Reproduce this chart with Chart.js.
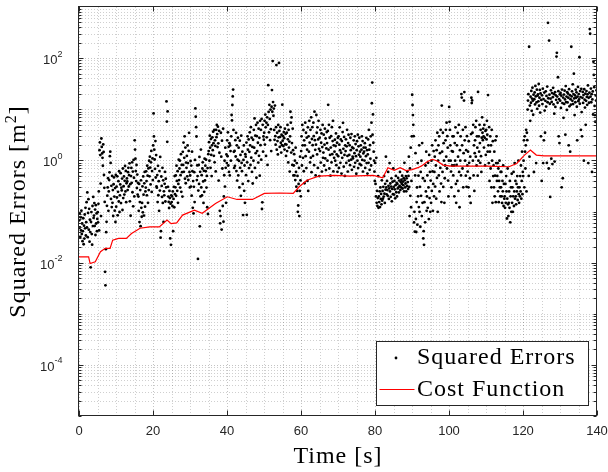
<!DOCTYPE html>
<html><head><meta charset="utf-8">
<script src="https://cdn.jsdelivr.net/npm/chart.js@4.4.0/dist/chart.umd.min.js"></script>
<style>html,body{margin:0;padding:0;background:#fff;overflow:hidden}</style>
</head><body>
<canvas id="c" width="608" height="472" style="width:608px;height:472px;display:block"></canvas>
<script>
// ---------------- data ----------------
const xTickLabels = [0, 20, 40, 60, 80, 100, 120, 140];
const yTickExponents = [-4, -2, 0, 2];
const seriesNames = ['Squared Errors', 'Cost Function'];

// Cost function (red line): time [s] and value [m^2]
const costTime  = [0, 2.6, 3.0, 4.4, 5.8, 7.1, 8.4, 9.1, 10.7, 12.8, 14.2, 16.5, 19.1, 21.7, 23.8, 24.9, 26.4, 28.0, 31.2, 33.3, 36.9, 40.1, 42.7, 46.9, 50.1, 54.2, 57.9, 59.5, 61.6, 64.8, 69.0, 73.2, 79.5, 82.1, 83.5, 85.2, 86.8, 88.4, 90.0, 91.6, 92.6, 94.2, 95.5, 96.8, 98.4, 100.5, 110, 116.2, 118.3, 120.4, 122, 123.6, 125.7, 140];
const costValue = [0.013, 0.013, 0.0096, 0.0104, 0.0163, 0.019, 0.019, 0.0275, 0.0297, 0.0297, 0.037, 0.047, 0.05, 0.05, 0.068, 0.058, 0.06, 0.085, 0.106, 0.092, 0.144, 0.194, 0.172, 0.172, 0.226, 0.23, 0.226, 0.305, 0.41, 0.49, 0.51, 0.49, 0.51, 0.457, 0.717, 0.64, 0.72, 0.63, 0.66, 0.72, 0.78, 0.95, 1.05, 0.97, 0.81, 0.77, 0.77, 0.75, 0.87, 1.27, 1.59, 1.27, 1.23, 1.23];

// Squared errors [m^2]: one row per second, 10 samples per second
const samplesPerSecond = 10;
const squaredErrors = [
[0.0672,0.0913,0.0486,0.0318,0.0771,0.0427,0.104,0.0362,0.0583,0.0263],
[0.0412,0.0738,0.0229,0.0527,0.0296,0.0874,0.0468,0.118,0.0339,0.0617],
[0.152,0.0487,0.236,0.0314,0.0936,0.174,0.0441,0.113,0.0257,0.0689],
[0.0395,0.0081,0.0623,0.0976,0.0361,0.0224,0.128,0.0519,0.193,0.0748],
[0.0834,0.146,0.0523,0.109,0.0347,0.133,0.0583,0.0917,0.0412,0.0716],
[0.097,0.0614,0.141,0.247,0.0426,1.58,2.24,1.27,0.352,0.0812],
[2.68,1.83,1.37,1.12,0.785,2.05,1.46,0.517,0.291,0.154],
[0.0066,0.0036,0.0183,0.0394,0.0627,0.129,0.204,0.296,0.447,0.103],
[0.247,0.412,0.584,1.21,1.48,0.893,0.176,0.318,0.122,0.497],
[0.148,0.262,0.0817,0.341,0.463,0.196,0.104,0.287,0.0623,0.518],
[0.124,0.306,0.188,0.487,0.0842,0.243,0.392,0.157,0.613,0.0978],
[0.207,0.338,0.562,0.146,0.293,0.258,0.441,0.107,0.694,0.183],
[0.312,0.486,0.214,0.398,0.776,0.247,0.621,0.152,0.357,0.443],
[0.386,0.263,0.588,0.716,0.308,0.513,0.874,0.158,0.342,0.0826],
[0.493,0.712,0.364,0.915,0.238,0.604,0.126,1.02,0.457,0.197],
[2.47,1.63,1.08,0.617,0.394,0.812,0.288,0.527,0.214,0.361],
[0.196,0.103,0.347,0.0621,0.153,0.262,0.0517,0.408,0.118,0.0789],
[0.147,0.309,0.0962,0.486,0.213,0.0834,0.356,0.594,0.124,0.247],
[0.294,0.612,0.393,0.207,0.786,0.503,0.148,0.697,0.263,0.984],
[0.487,1.18,0.723,0.338,0.917,1.53,0.241,0.618,1.09,0.412],
[1.96,8.3,2.94,1.62,1.04,0.683,2.38,0.462,1.27,0.308],
[0.293,0.516,0.153,0.784,0.208,0.392,0.103,0.617,0.257,1.17],
[0.0307,0.0412,0.484,0.316,0.193,0.714,0.147,0.407,0.0623,0.248],
[0.207,0.348,0.596,0.157,0.437,0.296,14.2,5.73,2.31,9.08],
[0.304,0.196,0.154,0.117,0.253,0.183,0.0298,0.142,0.0223,0.207],
[0.153,0.197,0.128,0.247,0.0412,0.176,0.304,0.121,0.493,0.218],
[0.297,0.508,0.203,0.786,0.396,0.254,0.614,0.148,0.347,1.03],
[0.412,0.693,0.987,0.294,0.513,1.32,0.243,0.816,0.587,0.196],
[1.47,0.814,2.23,0.596,1.12,2.96,0.438,1.78,0.357,0.907],
[0.716,1.22,0.487,1.96,0.884,0.413,1.53,3.46,0.592,0.296],
[0.506,0.973,0.307,0.792,0.204,1.48,0.613,0.118,0.394,0.0917],
[0.304,0.587,0.153,1.02,10.4,7.13,4.46,2.93,0.412,0.796],
[0.493,0.0118,0.257,0.812,0.346,1.17,0.0513,0.596,0.197,1.63],
[0.296,0.514,0.206,0.693,0.914,0.387,0.147,0.624,0.243,1.08],
[0.406,0.786,0.613,1.03,0.294,0.497,0.121,0.708,0.0893,1.32],
[1.52,2.27,0.984,3.04,1.77,0.714,2.62,1.28,0.493,1.97],
[2.83,1.58,3.64,2.17,1.23,3.93,0.914,2.47,1.92,0.607],
[3.96,2.84,4.93,3.27,1.82,4.56,2.16,0.403,3.78,1.41],
[0.103,0.0587,0.0814,3.47,1.18,0.0443,2.43,0.693,0.128,4.16],
[0.0632,0.197,0.512,0.984,0.307,1.77,0.716,0.148,1.31,0.886],
[2.47,1.21,3.53,0.793,1.84,0.594,2.17,0.507,1.96,1.52],
[0.987,2.96,7.71,6.04,12.1,17.8,24.3,3.94,1.47,0.712],
[1.53,0.784,2.48,1.19,3.46,0.617,1.97,0.403,1.03,2.77],
[0.507,1.77,0.974,0.296,2.43,0.716,1.28,0.203,3.04,0.893],
[0.614,1.48,0.347,0.0853,1.02,1.96,0.254,0.793,0.148,1.32],
[1.18,0.513,2.23,0.0862,0.917,2.96,1.62,0.394,2.57,0.706],
[1.47,3.53,1.97,0.812,4.46,1.13,2.78,0.596,1.83,0.353],
[2.53,0.983,3.96,1.77,6.62,0.713,3.04,1.38,4.93,0.457],
[2.97,1.52,5.46,2.21,0.907,4.17,1.23,2.76,0.503,5.94],
[1.98,3.96,1.03,6.47,0.112,0.151,4.96,1.48,2.94,2.53],
[3.47,5.93,2.04,7.86,4.43,1.22,5.46,2.83,6.94,0.814],
[4.93,29.6,8.87,3.53,12.2,6.47,2.48,9.86,4.07,1.52],
[11.2,23.7,8.93,87.6,13.8,7.46,10.3,3.94,2.52,11.8],
[2.97,2.03,4.46,73.2,1.62,3.47,2.38,1.31,4.93,2.83],
[80.7,3.76,1.83,2.88,4.47,2.21,1.42,3.17,1.98,12.3],
[2.43,2.97,1.91,3.58,2.72,1.63,4.16,2.07,3.31,1.22],
[2.04,3.47,1.52,4.93,2.58,0.913,3.96,1.78,2.33,0.604],
[2.96,8.93,5.47,1.42,6.93,2.18,0.814,4.17,1.58,0.507],
[0.793,1.32,0.507,0.986,0.412,1.77,0.594,0.306,0.887,0.253],
[0.497,0.0987,0.131,0.347,0.712,0.0812,0.253,1.18,0.407,0.198],
[1.52,2.96,0.793,4.94,1.97,1.12,3.93,0.613,2.47,0.357],
[1.97,5.46,1.21,3.47,0.706,2.78,1.62,0.397,4.43,0.253],
[2.96,1.48,5.93,2.23,0.913,3.96,1.13,6.94,0.587,2.62],
[4.46,1.98,1.22,5.47,2.97,0.806,8.96,2.48,1.61,0.507],
[2.03,7.72,3.47,1.31,4.43,0.713,2.57,5.93,1.68,0.494],
[2.78,1.52,3.96,0.907,2.21,3.37,0.604,1.82,4.93,1.12],
[1.42,3.18,0.793,2.03,4.17,1.09,2.68,0.647,1.71,3.57],
[2.18,0.987,3.77,12.2,1.62,4.96,0.693,2.77,1.28,0.503],
[1.78,2.97,0.913,4.46,1.32,2.38,5.93,0.607,1.97,1.12],
[1.48,2.53,0.984,1.91,3.37,0.807,1.31,2.21,0.596,2.77],
[1.21,2.96,0.713,2.03,4.43,1.58,0.896,2.57,1.41,0.553],
[2.38,1.12,3.57,5.43,1.68,0.752,2.87,1.28,0.497,1.97],
[1.52,2.58,0.893,1.88,3.96,1.22,0.604,2.18,3.17,0.987],
[1.28,1.97,0.807,2.77,1.58,1.03,3.27,0.653,1.79,1.18],
[1.09,1.72,2.47,0.748,1.38,2.96,0.896,2.08,1.21,0.547],
[1.58,2.37,0.987,3.18,0.706,1.88,1.29,2.77,0.853,1.48],
[1.18,1.97,0.807,1.62,2.96,1.02,2.38,0.604,1.37,1.78],
[1.48,0.993,2.17,0.712,1.77,1.21,2.76,0.887,1.58,0.553],
[1.31,2.57,0.896,3.96,1.62,0.653,1.98,1.08,2.96,0.793],
[5.47,13.1,33.2,3.18,7.93,2.21,1.48,0.987,0.604,0.397],
[0.893,0.347,0.197,1.12,0.148,0.253,0.128,0.183,0.493,0.118],
[0.197,0.153,0.248,0.122,0.296,0.176,0.221,0.138,0.407,0.163],
[0.253,0.178,0.304,0.196,0.493,0.223,0.147,0.348,0.267,1.18],
[0.296,0.217,0.397,0.262,0.203,0.594,0.318,0.176,0.283,0.887],
[0.247,0.353,0.194,0.307,0.446,0.158,0.277,0.382,0.218,0.693],
[0.303,0.214,0.397,0.272,0.181,0.327,0.497,0.238,0.363,0.197],
[0.347,0.283,0.453,0.297,0.236,0.402,0.318,0.594,0.262,0.377],
[0.296,0.418,0.347,0.503,0.282,0.384,0.327,0.447,0.247,0.896],
[0.407,0.296,0.353,0.494,0.248,0.446,0.317,0.604,0.377,0.276],
[0.497,1.18,0.303,0.0812,0.694,0.203,1.77,0.121,0.397,2.96],
[19.2,12.1,7.68,4.96,2.97,0.0612,0.0987,0.0403,0.507,1.38],
[0.0714,0.0397,0.153,0.296,0.0553,0.887,0.198,0.503,0.122,1.97],
[0.0987,0.304,0.0503,0.594,0.203,0.984,0.0812,2.18,0.148,0.447],
[0.0297,0.0412,0.0223,0.152,0.397,0.0614,0.793,0.247,1.48,0.103],
[0.197,0.507,0.118,0.896,0.296,0.0712,1.28,0.183,0.594,0.0987],
[0.403,0.148,0.987,0.253,1.97,0.607,0.103,0.347,1.52,0.198],
[0.594,1.18,0.307,2.47,0.793,0.178,1.58,0.453,3.47,0.0987],
[0.987,1.97,0.507,2.96,0.247,1.38,0.712,3.96,0.352,0.153],
[11.8,1.48,0.594,3.47,0.303,2.17,0.987,0.148,0.447,0.793],
[2.47,3.96,1.18,5.47,0.693,2.97,1.77,0.403,0.197,0.987],
[11.1,5.68,3.96,1.97,0.987,0.604,0.297,1.52,0.793,2.96],
[1.48,0.507,2.96,0.793,0.198,2.18,0.987,4.43,0.347,0.148],
[0.813,1.97,0.397,3.46,1.18,0.253,4.96,0.594,0.121,1.58],
[0.987,2.96,0.507,19.8,16.9,1.97,0.693,3.96,0.297,1.38],
[14.8,21.7,2.47,0.987,4.46,0.503,1.58,0.304,2.97,0.793],
[0.604,1.48,0.297,2.37,0.896,0.198,0.447,1.18,0.147,3.27],
[16.8,13.2,14.9,3.47,0.987,4.96,0.507,1.97,0.253,1.38],
[2.47,4.46,1.18,5.93,0.793,2.96,1.77,0.503,21.8,0.987],
[2.96,1.48,4.96,2.18,0.896,3.96,1.21,0.594,2.77,6.94],
[3.47,2.48,4.17,2.96,1.78,4.93,2.77,0.793,3.77,1.28],
[3.96,2.57,5.93,3.17,1.48,18.9,1.97,0.887,4.46,0.397],
[1.48,2.96,0.693,1.97,0.297,3.96,0.987,0.148,2.37,0.494],
[0.793,0.297,1.48,0.198,0.503,2.47,0.152,0.887,2.96,0.397],
[0.497,0.887,0.248,0.693,0.152,0.397,0.987,0.297,0.198,0.594],
[0.297,0.594,0.198,0.147,0.397,0.248,0.793,0.128,0.347,0.178],
[0.198,0.118,0.347,0.148,0.494,0.247,0.073,0.178,0.693,0.138],
[0.0812,0.148,0.247,0.118,0.397,0.0614,0.198,0.297,0.0987,0.547],
[0.148,0.297,0.0987,0.198,0.594,0.128,0.247,0.887,0.178,0.397],
[0.198,0.138,0.347,0.247,0.494,0.168,0.297,0.987,0.218,0.148],
[0.297,0.198,0.494,0.247,0.793,0.178,0.397,1.48,0.218,0.594],
[0.494,0.987,2.47,0.297,2.96,1.48,0.693,1.97,3.96,0.247],
[3.47,2.48,9.87,14.8,19.7,0.497,167,1.18,11.8,5.93],
[17.6,13.4,22.8,9.3,16.2,26.4,14.7,7.8,19.3,0.593],
[15.7,21.3,12.4,28.6,17.8,0.887,13.6,24.1,10.2,18.4],
[19.6,14.3,31.2,11.7,16.8,23.9,8.6,20.4,2.96,15.2],
[0.397,18.7,12.6,25.3,0.887,15.8,2.47,21.2,9.4,3.47],
[14.6,22.4,11.3,18.2,0.893,27.8,13.7,490,16.4,0.693],
[220,19.3,12.8,0.193,16.1,23.4,1.08,13.9,20.7,0.847],
[17.2,26.3,12.4,19.8,8.2,0.948,21.6,11.1,18.6,15.3],
[107,127,17.7,13.4,42.3,22.6,2.96,15.8,2.18,19.6],
[14.7,20.8,10.6,18.4,0.297,24.3,13.2,0.447,16.9,6.8],
[19.4,12.7,23.1,15.6,3.18,28.4,13.8,17.7,9.7,21.6],
[13.6,20.3,16.8,1.97,24.7,11.4,18.9,1.48,15.7,12.3],
[167,17.8,22.4,14.6,30.7,12.6,19.8,49.6,16.3,7.68],
[18.6,13.7,24.2,16.8,21.4,11.2,2.47,17.6,27.3,14.4],
[19.8,15.6,104,12.8,22.7,17.3,3.96,25.1,8.8,2.96],
[16.7,21.8,13.3,18.9,0.987,24.6,15.4,10.8,20.2,4.96],
[14.6,22.7,17.4,12.2,19.6,29.3,0.887,16.8,13.4,21.1],
[370,300,17.6,25.4,13.7,19.7,0.594,15.6,22.3,7.9],
[85,47,27,11.6,7.7,5.7,18.6,14.8,23.4,35.2]
];

// ---------------- build datasets ----------------
const errorPoints = [];
squaredErrors.forEach((row, sec) => {
  row.forEach((v, i) => errorPoints.push({ x: sec + (i + 0.5) / samplesPerSecond, y: v }));
});
const costPoints = costTime.map((t, i) => ({ x: t, y: costValue[i] }));

const AX = '#262626';
const SANS = '"Liberation Sans", Arial, sans-serif';
const SERIF = '"Liberation Serif", "Times New Roman", serif';

function crisp(v) { return Math.round(v) + 0.5; }

const framePlugin = {
  id: 'frame',
  beforeDatasetsDraw(chart) {
    const { ctx, chartArea: a, scales: { x, y } } = chart;
    ctx.save();
    ctx.beginPath(); ctx.rect(a.left, a.top, a.right - a.left, a.bottom - a.top); ctx.clip();
    ctx.lineWidth = 1;
    ctx.strokeStyle = 'rgba(38,38,38,0.22)';
    ctx.setLineDash([1, 2]);
    ctx.beginPath();
    for (let t = 5; t < 140; t += 5) {
      if (t % 20 === 0) continue;
      const px = crisp(x.getPixelForValue(t));
      ctx.moveTo(px, a.top); ctx.lineTo(px, a.bottom);
    }
    for (let e = -5; e < 3; e++) {
      for (let m = 1; m < 10; m++) {
        if (m === 1 && e % 2 === 0) continue;
        const py = crisp(y.getPixelForValue(m * Math.pow(10, e)));
        ctx.moveTo(a.left, py); ctx.lineTo(a.right, py);
      }
    }
    ctx.stroke();
    ctx.strokeStyle = 'rgba(38,38,38,0.28)';
    ctx.beginPath();
    xTickLabels.forEach(t => {
      const px = crisp(x.getPixelForValue(t));
      ctx.moveTo(px, a.top); ctx.lineTo(px, a.bottom);
    });
    yTickExponents.forEach(e => {
      const py = crisp(y.getPixelForValue(Math.pow(10, e)));
      ctx.moveTo(a.left, py); ctx.lineTo(a.right, py);
    });
    ctx.stroke();
    ctx.restore();
  },
  afterDatasetsDraw(chart) {
    const { ctx, chartArea: a, scales: { x, y } } = chart;
    ctx.save();
    ctx.setLineDash([]);
    ctx.strokeStyle = AX;
    ctx.lineWidth = 1;
    const L = crisp(a.left) - 1, R = crisp(a.right) - 1, T = crisp(a.top) - 1, B = crisp(a.bottom) - 1;
    ctx.strokeRect(L, T, R - L, B - T);
    ctx.beginPath();
    xTickLabels.forEach(t => {
      const px = crisp(x.getPixelForValue(t));
      ctx.moveTo(px, B); ctx.lineTo(px, B - 5);
      ctx.moveTo(px, T); ctx.lineTo(px, T + 5);
    });
    for (let e = -5; e < 3; e++) {
      for (let m = 1; m < 10; m++) {
        const v = m * Math.pow(10, e);
        const py = crisp(y.getPixelForValue(v));
        const len = (m === 1 && e % 2 === 0) ? 5 : 3;
        ctx.moveTo(L, py); ctx.lineTo(L + len, py);
        ctx.moveTo(R, py); ctx.lineTo(R - len, py);
      }
    }
    ctx.stroke();

    ctx.fillStyle = AX;
    ctx.font = '13px ' + SANS;
    ctx.textAlign = 'center'; ctx.textBaseline = 'alphabetic';
    xTickLabels.forEach(t => ctx.fillText(String(t), x.getPixelForValue(t), 435));
    yTickExponents.forEach(e => {
      const py = y.getPixelForValue(Math.pow(10, e));
      const ex = String(e);
      ctx.font = '9px ' + SANS;
      const w2 = ctx.measureText(ex).width;
      ctx.font = '13px ' + SANS;
      const w1 = ctx.measureText('10').width;
      const right = 62.5;
      ctx.textAlign = 'left';
      ctx.fillText('10', right - w2 - w1, py + 6);
      ctx.font = '9px ' + SANS;
      ctx.fillText(ex, right - w2, py - 1.5);
    });

    ctx.fillStyle = '#000';
    ctx.font = '24px ' + SERIF;
    if ('letterSpacing' in ctx) ctx.letterSpacing = '1px';
    ctx.textAlign = 'center';
    ctx.fillText('Time [s]', (a.left + a.right) / 2, 463);

    ctx.save();
    ctx.translate(25, (a.top + a.bottom) / 2);
    ctx.rotate(-Math.PI / 2);
    const p1 = 'Squared Errors [m', p2 = '2', p3 = ']';
    ctx.font = '24px ' + SERIF;
    const w1 = ctx.measureText(p1).width, w3 = ctx.measureText(p3).width;
    ctx.font = '16px ' + SERIF;
    const w2 = ctx.measureText(p2).width;
    const tot = w1 + w2 + w3;
    ctx.textAlign = 'left';
    ctx.font = '24px ' + SERIF;
    ctx.fillText(p1, -tot / 2, 0);
    ctx.fillText(p3, -tot / 2 + w1 + w2, 0);
    ctx.font = '16px ' + SERIF;
    ctx.fillText(p2, -tot / 2 + w1, -9);
    ctx.restore();

    ctx.fillStyle = '#fff';
    ctx.fillRect(376.5, 341.5, 212, 64);
    ctx.strokeStyle = AX;
    ctx.strokeRect(376.5, 341.5, 212, 64);
    ctx.fillStyle = '#000';
    ctx.beginPath(); ctx.arc(396, 358, 1.4, 0, Math.PI * 2); ctx.fill();
    ctx.strokeStyle = '#ff0000'; ctx.lineWidth = 1.2;
    ctx.beginPath(); ctx.moveTo(379.5, 389.5); ctx.lineTo(414.5, 389.5); ctx.stroke();
    ctx.fillStyle = '#000';
    ctx.font = '24px ' + SERIF;
    ctx.textAlign = 'left';
    ctx.fillText(seriesNames[0], 417, 364);
    ctx.fillText(seriesNames[1], 417, 396);
    ctx.restore();
  }
};

new Chart(document.getElementById('c'), {
  type: 'scatter',
  data: {
    datasets: [
      { label: seriesNames[1], data: costPoints, showLine: true, borderColor: '#ff0000', borderWidth: 1.2,
        pointRadius: 0, tension: 0, order: 0 },
      { label: seriesNames[0], data: errorPoints, showLine: false, pointRadius: 1.4, pointHoverRadius: 1.4,
        backgroundColor: '#000', borderWidth: 0, order: 1 }
    ]
  },
  options: {
    responsive: false,
    animation: false,
    devicePixelRatio: 1,
    layout: { padding: { left: 79, right: 11, top: 7, bottom: 56 } },
    scales: {
      x: { type: 'linear', min: 0, max: 140, display: false },
      y: { type: 'logarithmic', min: 1e-5, max: 1e3, display: false }
    },
    plugins: { legend: { display: false }, tooltip: { enabled: false } },
    events: []
  },
  plugins: [framePlugin]
});
</script>
</body></html>
